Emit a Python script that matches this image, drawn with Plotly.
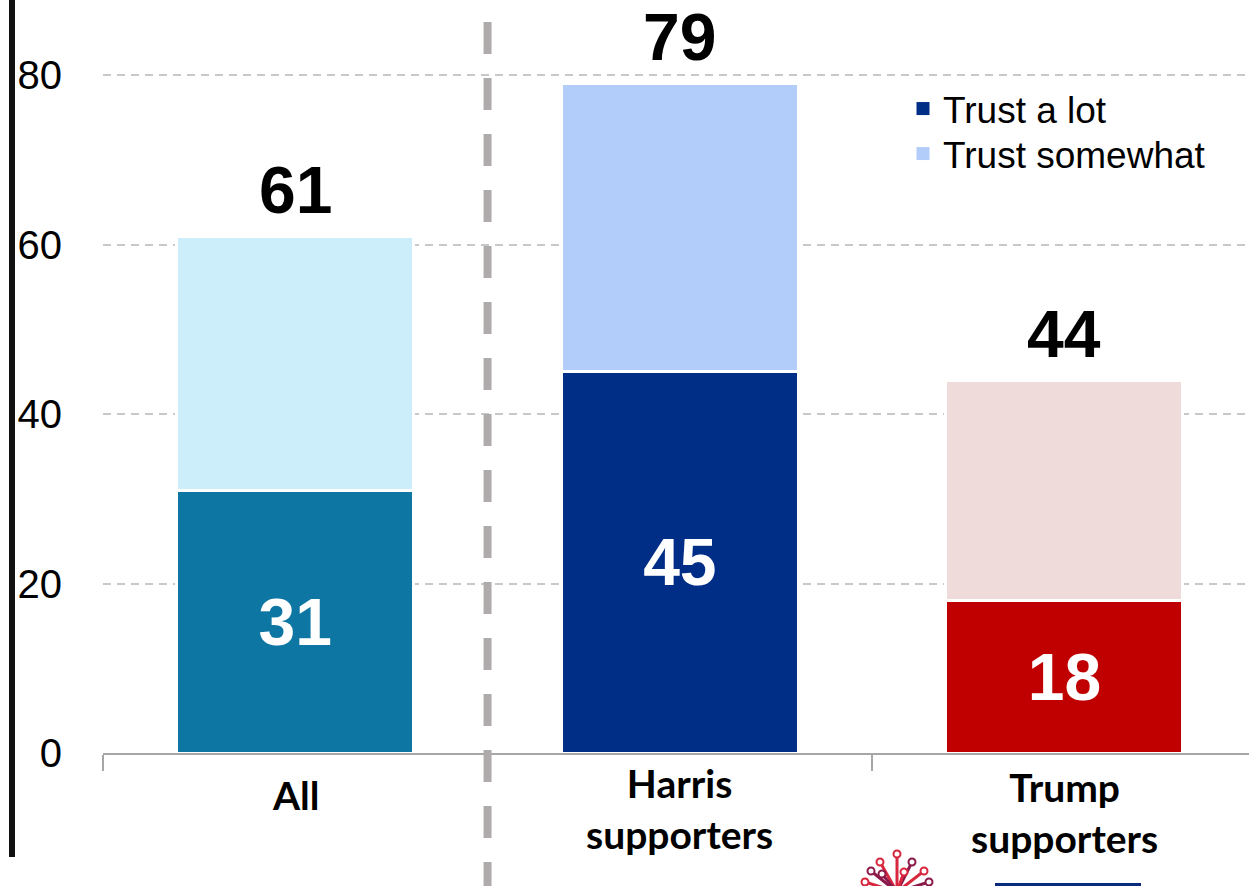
import plotly.graph_objects as go

# ---- data ----
categories = ["All", "Harris<br>supporters", "Trump<br>supporters"]
trust_a_lot = [31, 45, 18]
trust_somewhat_total = [61, 79, 44]
trust_somewhat = [t - a for t, a in zip(trust_somewhat_total, trust_a_lot)]
y_ticks = [0, 20, 40, 60, 80]
series_names = ["Trust a lot", "Trust somewhat"]

lot_colors = ["#0E76A2", "#002D86", "#C00000"]
some_colors = ["#CCEDFA", "#B3CDFB", "#F0DBDB"]
legend_colors = ["#002D86", "#B3CDFB"]

W, H = 1249, 886
L, B = 103, 133
PW, PH = W - L, H - B
x_pos = list(range(len(categories)))

def px(x):
    return (x - L) / PW

def py(y):
    return (H - B - y) / PH

fig = go.Figure()

fig.add_trace(go.Bar(
    x=x_pos, y=trust_a_lot, width=0.616,
    marker=dict(color=lot_colors, line=dict(color="white", width=3)),
    text=[str(v) for v in trust_a_lot], textposition="inside",
    insidetextanchor="middle", textangle=0,
    textfont=dict(family="Liberation Sans", size=66, color="white", weight="bold"),
    showlegend=False, hoverinfo="skip",
))
fig.add_trace(go.Bar(
    x=x_pos, y=trust_somewhat, width=0.616,
    marker=dict(color=some_colors, line=dict(color="white", width=3)),
    showlegend=False, hoverinfo="skip",
))

legend_ids = ["legend", "legend2"]
for name, col, lg in zip(series_names, legend_colors, legend_ids):
    fig.add_trace(go.Scatter(
        x=[None], y=[None], mode="markers", name=name, legend=lg,
        marker=dict(symbol="square", size=13, color=col),
    ))

# totals above bars
for xi, tot in zip(x_pos, trust_somewhat_total):
    fig.add_annotation(x=xi, y=tot, xref="x", yref="y", text=str(tot),
                       showarrow=False, yanchor="middle", yshift=46,
                       font=dict(family="Liberation Sans", size=66, color="black", weight="bold"))

# category labels
label_shift = [-42, -55, -59]
for xi, lab, ys in zip(x_pos, categories, label_shift):
    fig.add_annotation(x=xi, y=0, xref="x", yref="paper", text=lab,
                       showarrow=False, yanchor="middle", yshift=ys,
                       font=dict(family="Lato", size=39, color="black", weight="bold"))

shapes = []
# thick black left rule
shapes.append(dict(type="line", xref="paper", yref="paper",
                   x0=px(12), x1=px(12), y0=py(0), y1=py(857),
                   line=dict(color="#111111", width=6)))
# dashed divider between All and supporters
shapes.append(dict(type="line", xref="x", yref="paper",
                   x0=0.5, x1=0.5, y0=py(22), y1=py(900),
                   line=dict(color="#AFABAB", width=8, dash="32px,24px")))
# logo pieces (decorative)
shapes.append(dict(type="rect", xref="paper", yref="paper",
                   x0=px(995), x1=px(1141), y0=py(883), y1=py(890),
                   fillcolor="#0B2B7F", line=dict(width=0)))
tree = [((897, 854), "#D7263D"), ((880, 862), "#D7263D"), ((871, 871), "#8B1A4A"),
        ((865, 882), "#D7263D"), ((882, 874), "#8B1A4A"), ((912, 862), "#8B1A4A"),
        ((924, 871), "#D7263D"), ((929, 882), "#8B1A4A"), ((904, 872), "#D7263D")]
for (tx, ty), c in tree:
    shapes.append(dict(type="line", xref="paper", yref="paper",
                       x0=px(897), y0=py(892), x1=px(tx), y1=py(ty),
                       line=dict(color=c, width=3)))
    shapes.append(dict(type="circle", xref="paper", yref="paper",
                       x0=px(tx - 3.5), x1=px(tx + 3.5), y0=py(ty - 3.5), y1=py(ty + 3.5),
                       fillcolor="white", line=dict(color=c, width=2)))

legend_style = dict(xanchor="left", yanchor="top", traceorder="normal",
                    font=dict(family="Liberation Sans", size=37, color="black"),
                    bgcolor="rgba(0,0,0,0)", itemwidth=30)

fig.update_layout(
    width=W, height=H,
    margin=dict(l=L, r=0, t=0, b=B, pad=0),
    paper_bgcolor="white", plot_bgcolor="white",
    barmode="stack",
    shapes=shapes,
    showlegend=True,
    legend=dict(x=px(903), y=py(78), **legend_style),
    legend2=dict(x=px(903), y=py(123), **legend_style),
    xaxis=dict(range=[-0.5, 2.48], showticklabels=False, ticks="",
               showgrid=False, zeroline=False, automargin=False,
               showline=True, linecolor="#A6A6A6", linewidth=2,
               minor=dict(tickmode="array", tickvals=[-0.5, 0.5, 1.5, 2.5],
                          ticks="outside", ticklen=16, tickwidth=2, tickcolor="#A6A6A6",
                          showgrid=False)),
    yaxis=dict(range=[0, PH / (678 / 80)], tickvals=y_ticks,
               ticktext=[str(v) for v in y_ticks],
               tickfont=dict(family="Liberation Sans", size=40, color="black"),
               showgrid=True, gridcolor="#C8C8C8", gridwidth=1.5, griddash="8px,6px",
               zeroline=False, showline=False, ticks="", automargin=False,
               ticklabelstandoff=40),
)

fig.write_html("out.html", config={"displayModeBar": False},
               post_script="document.body.style.margin='0';document.body.style.padding='0';")
